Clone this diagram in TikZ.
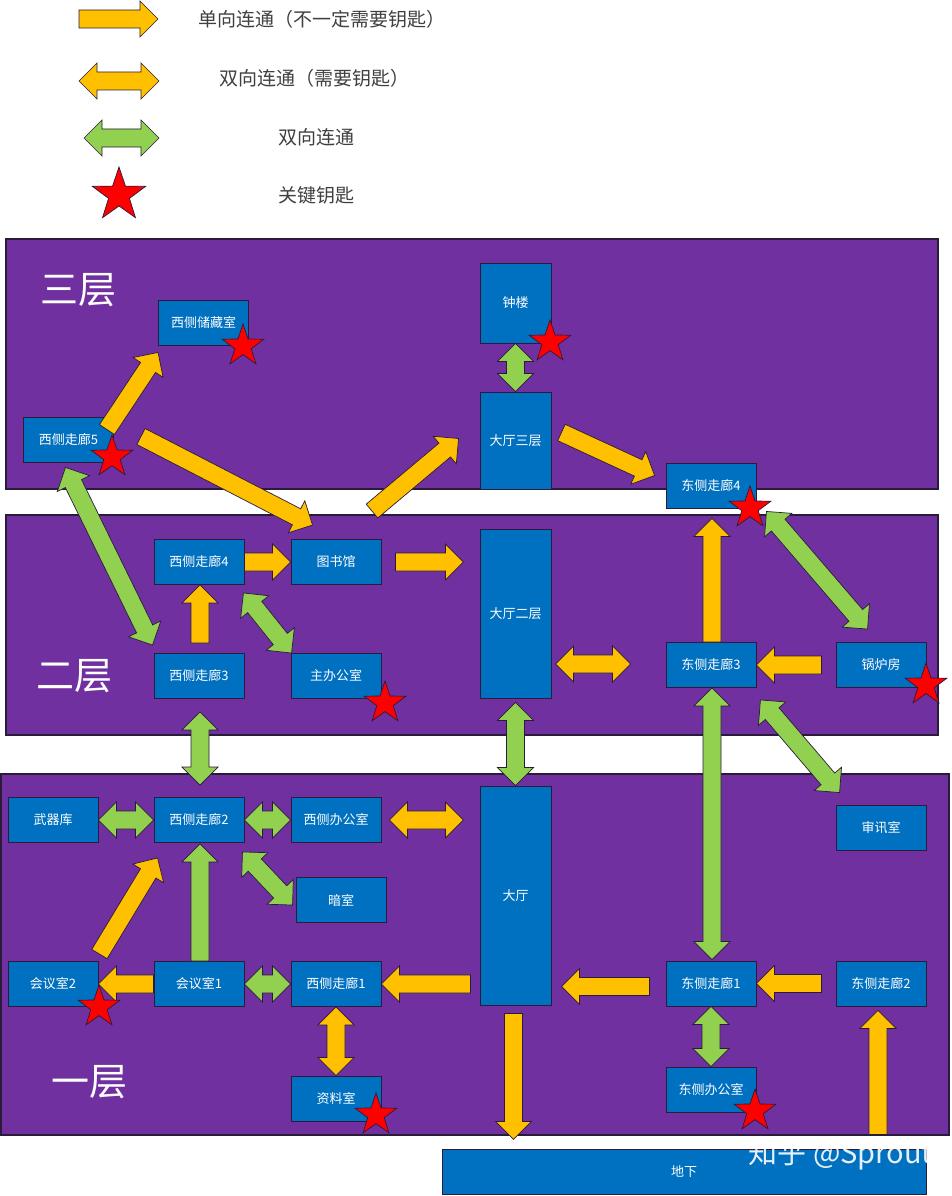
\documentclass[tikz,border=0pt]{standalone}
\usepackage{fontspec}
\newfontfamily\cjk{Noto Sans CJK SC}
\usetikzlibrary{calc,shapes.geometric}

\definecolor{floorpurple}{HTML}{7030A0}
\definecolor{roomblue}{HTML}{0070C0}
\definecolor{oneway}{HTML}{FFC000}
\definecolor{twoway}{HTML}{92D050}
\definecolor{keyred}{HTML}{FF0000}
\definecolor{edge}{HTML}{2B1B3B}

\tikzset{
  floor/.style={fill=floorpurple, draw=edge, line width=1.2pt},
  room/.style={draw=edge, fill=roomblue, text=white, line width=0.9pt,
    minimum width=90pt, minimum height=45pt, inner sep=0pt,
    font=\cjk\fontsize{13}{15}\selectfont},
  hallroom/.style={room, minimum width=71pt},
  floorname/.style={text=white, font=\cjk\fontsize{38}{40}\selectfont},
  legendtext/.style={anchor=west, text=black!75, font=\cjk\fontsize{19}{21}\selectfont},
  yel/.style={fill=oneway, draw=edge, line width=0.7pt},
  grn/.style={fill=twoway, draw=edge, line width=0.7pt},
  keystar/.style={star, star points=5, star point ratio=2.55, minimum size=44pt,
    inner sep=0pt, fill=keyred, draw=edge, line width=0.7pt},
}

\newcommand{\shaftw}{9pt}
\newcommand{\headw}{18pt}
\newcommand{\headlen}{18pt}

% fat one-way arrow: style, tail, tip
\newcommand{\fatone}[3]{%
  \coordinate (fa) at (#2);
  \coordinate (fb) at (#3);
  \coordinate (fc) at ($(fb)!\headlen!(fa)$);
  \filldraw[#1] ($(fa)!\shaftw!90:(fb)$) -- ($(fc)!\shaftw!-90:(fa)$)
    -- ($(fc)!\headw!-90:(fa)$) -- (fb) -- ($(fc)!\headw!90:(fa)$)
    -- ($(fc)!\shaftw!90:(fa)$) -- ($(fa)!\shaftw!-90:(fb)$) -- cycle;
}
% fat two-way arrow: style, end, end
\newcommand{\fattwo}[3]{%
  \coordinate (fa) at (#2);
  \coordinate (fb) at (#3);
  \coordinate (fc) at ($(fa)!\headlen!(fb)$);
  \coordinate (fd) at ($(fb)!\headlen!(fa)$);
  \filldraw[#1] (fa) -- ($(fc)!\headw!90:(fb)$) -- ($(fc)!\shaftw!90:(fb)$)
    -- ($(fd)!\shaftw!-90:(fa)$) -- ($(fd)!\headw!-90:(fa)$) -- (fb)
    -- ($(fd)!\headw!90:(fa)$) -- ($(fd)!\shaftw!90:(fa)$)
    -- ($(fc)!\shaftw!-90:(fb)$) -- ($(fc)!\headw!-90:(fb)$) -- cycle;
}

\begin{document}
\begin{tikzpicture}[x=1pt,y=-1pt]
\useasboundingbox (0,0) rectangle (951,1196);
\fill[white] (0,0) rectangle (951,1196);

% legend
\fatone{yel}{79,19}{158,19}
\fattwo{yel}{79,81}{159,81}
\fattwo{grn}{84,138}{159,138}
\node[keystar, minimum size=56pt] (legstar) at (119,195) {};
\node[legendtext] (leg1) at (195,19) {单向连通（不一定需要钥匙）};
\node[legendtext] (leg2) at (216,78) {双向连通（需要钥匙）};
\node[legendtext] (leg3) at (275,137) {双向连通};
\node[legendtext] (leg4) at (275,195) {关键钥匙};

% floors
\draw[floor] (6,239) rectangle (938,489);
\draw[floor] (6,515) rectangle (938,735);
\draw[floor] (1,774) rectangle (949,1135);
\node[floorname] (f3) at (78,290) {三层};
\node[floorname] (f2) at (74,676) {二层};
\node[floorname] (f1) at (89,1082) {一层};

% third floor
\node[room] (store) at (203.5,322.5) {西侧储藏室};
\node[room] (w5) at (68.5,439.5) {西侧走廊5};
\node[hallroom, minimum height=80pt] (bell) at (515.5,303) {钟楼};
\node[hallroom, minimum height=97pt] (hall3) at (515.5,440.5) {大厅三层};
\node[room] (e4) at (711,485.5) {东侧走廊4};

% second floor
\node[room] (w4) at (199,562) {西侧走廊4};
\node[room] (lib) at (336,562) {图书馆};
\node[room] (w3) at (199,676) {西侧走廊3};
\node[room] (boss) at (336,676) {主办公室};
\node[hallroom, minimum height=169pt] (hall2) at (515.5,613.5) {大厅二层};
\node[room] (e3) at (711,665) {东侧走廊3};
\node[room] (boiler) at (881,665) {锅炉房};

% first floor
\node[room] (armory) at (53,820) {武器库};
\node[room] (w2) at (199,820) {西侧走廊2};
\node[room] (woff) at (336,820) {西侧办公室};
\node[room] (dark) at (341,900) {暗室};
\node[room] (meet2) at (53,984) {会议室2};
\node[room] (meet1) at (199,984) {会议室1};
\node[room] (w1) at (336,984) {西侧走廊1};
\node[room] (archive) at (336,1098.5) {资料室};
\node[hallroom, minimum height=219pt] (hall) at (515.5,895.5) {大厅};
\node[room] (cell) at (881,827.5) {审讯室};
\node[room] (e1) at (711,983.5) {东侧走廊1};
\node[room] (e2) at (881,983.5) {东侧走廊2};
\node[room] (eoff) at (711,1089.5) {东侧办公室};
\node[room, minimum width=484pt] (base) at (684,1171.5) {地下};

% connections
\fatone{yel}{$(w5.north east)+(-7,13)$}{$(store.south west)+(0,7)$}
\fatone{yel}{$(w5.east)+(27,-3)$}{$(lib.north west)+(22,-14)$}
\fatone{yel}{$(lib.north)+(36,-28)$}{$(hall3.west)+(-21,-2)$}
\fatone{yel}{$(hall3.east)+(10,-8)$}{$(e4.west)+(-11,-10)$}
\fattwo{grn}{bell.south}{hall3.north}
\fattwo{grn}{$(w5.south)+(-3,5)$}{$(w3.north west)+(-1,-8)$}
\fatone{yel}{w4.east}{lib.west}
\fatone{yel}{$(lib.east)+(14,0)$}{$(lib.east)+(82,0)$}
\fatone{yel}{$(w3.north)+(1,-10)$}{$(w4.south)+(1,0)$}
\fattwo{grn}{$(w4.south east)+(-1,8)$}{$(boss.north west)+(1,0)$}
\fattwo{yel}{$(e3.west)+(-110,-1)$}{$(e3.west)+(-35,-1)$}
\fatone{yel}{$(e3.north)+(1,0)$}{$(e4.south)+(1,10)$}
\fattwo{grn}{$(e4.south east)+(10,3)$}{$(boiler.north west)+(32,-13)$}
\fatone{yel}{$(boiler.west)+(-14,0)$}{e3.east}
\fattwo{grn}{$(w3.south)+(1,13)$}{$(w2.north)+(1,-12)$}
\fattwo{grn}{$(hall2.south)+(0,4)$}{hall.north}
\fattwo{grn}{$(e3.south)+(1,0)$}{$(e1.north)+(1,-1)$}
\fattwo{grn}{$(e3.south east)+(4,12)$}{$(cell.north west)+(4,-12)$}
\fattwo{grn}{armory.east}{w2.west}
\fattwo{grn}{w2.east}{woff.west}
\fattwo{yel}{$(woff.east)+(8,0)$}{$(woff.east)+(82,0)$}
\fattwo{grn}{$(w2.south east)+(-2,9)$}{$(dark.west)+(-3,5)$}
\fatone{yel}{$(meet2.north east)+(1,-7)$}{$(w2.south west)+(4,15)$}
\fatone{grn}{$(meet1.north)+(1,0)$}{$(w2.south)+(1,1)$}
\fatone{yel}{meet1.west}{meet2.east}
\fattwo{grn}{meet1.east}{w1.west}
\fatone{yel}{$(w1.east)+(89,0)$}{w1.east}
\fattwo{yel}{w1.south}{archive.north}
\fatone{yel}{$(hall.south)+(-2,8)$}{$(hall.south)+(-2,134)$}
\fatone{yel}{$(e1.west)+(-16,3)$}{$(e1.west)+(-104,3)$}
\fattwo{grn}{e1.south}{eoff.north}
\fatone{yel}{$(e2.west)+(-14,0)$}{e1.east}
\fatone{yel}{$(e2.south)+(-3,128)$}{$(e2.south)+(-3,4)$}

% key stars
\node[keystar] (kstore) at (243,346) {};
\node[keystar] (kw5) at (112,457) {};
\node[keystar] (kbell) at (550,342) {};
\node[keystar] (ke4) at (750,508) {};
\node[keystar] (kboss) at (385,703) {};
\node[keystar] (kboiler) at (926,685) {};
\node[keystar] (kmeet2) at (99,1007) {};
\node[keystar] (karchive) at (376,1115) {};
\node[keystar] (keoff) at (755,1111) {};

% watermark
\node[anchor=west, text=white, opacity=0.9, font=\cjk\fontsize{29}{31}\selectfont] (mark) at (745,1155) {知乎 @Sprout};
\end{tikzpicture}
\end{document}
